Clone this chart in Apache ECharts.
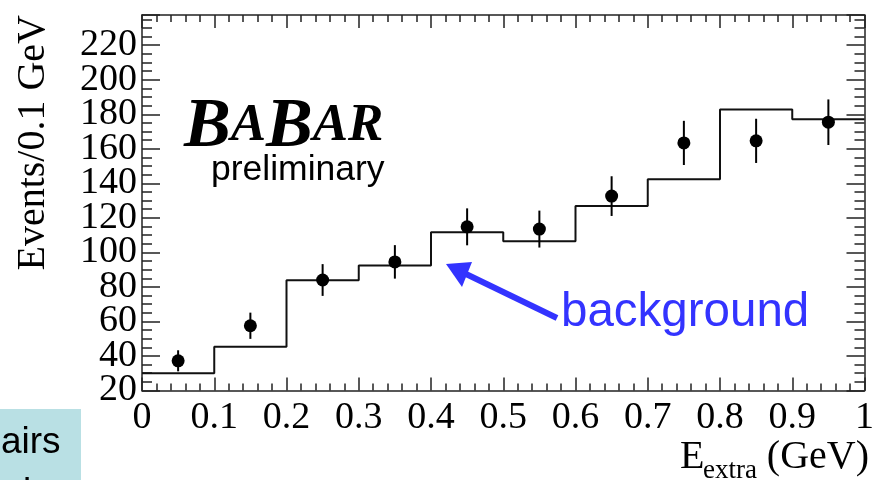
<!DOCTYPE html>
<html>
<head>
<meta charset="utf-8">
<script src="https://cdn.jsdelivr.net/npm/echarts@6/dist/echarts.min.js"></script>
<style>
  html, body { margin: 0; padding: 0; background: #fff; }
  #chart { width: 877px; height: 480px; }
</style>
</head>
<body>
<div id="chart"></div>
<script>
// Lower edges of the 0.1 GeV bins
const binEdges = [0.0, 0.1, 0.2, 0.3, 0.4, 0.5, 0.6, 0.7, 0.8, 0.9];
const binWidth = 0.1;
// Expected background per bin (histogram)
const background = [30, 45.3, 83.8, 92.4, 111.7, 106.5, 126.8, 142.4, 182.7, 177.1];
// Observed events per bin and their statistical uncertainties
const binCenters = [0.05, 0.15, 0.25, 0.35, 0.45, 0.55, 0.65, 0.75, 0.85, 0.95];
const observed = [37.2, 57.5, 84.0, 94.5, 114.8, 113.5, 132.6, 163.4, 164.6, 175.4];
const observedErr = [6.1, 7.6, 9.2, 9.7, 10.7, 10.7, 11.5, 12.8, 12.8, 13.2];
const xTicks = ['0', '0.1', '0.2', '0.3', '0.4', '0.5', '0.6', '0.7', '0.8', '0.9', '1'];
const yMin = 20, yMax = 237.5, yStep = 20;

const AXIS = '#222';
const SERIF = '"Liberation Serif", "DejaVu Serif", serif';
const SANS = '"Liberation Sans", Arial, sans-serif';

// Step outline: each bin edge carries that bin's value, closed at x = 1
const histData = binEdges.map((x, i) => [x, background[i]]);
histData.push([binEdges[binEdges.length - 1] + binWidth, background[background.length - 1]]);

const pointData = binCenters.map((x, i) => [x, observed[i]]);
const errData = binCenters.map((x, i) => [x, observed[i] - observedErr[i], observed[i] + observedErr[i]]);

const tickStyle = { color: AXIS, width: 1.5 };

function xAxisDef(pos, labels) {
  return {
    type: 'value', position: pos, min: 0, max: 1, interval: 0.1,
    axisLine: { show: true, onZero: false, lineStyle: tickStyle },
    axisTick: { show: true, inside: true, length: 13, lineStyle: tickStyle },
    minorTick: { show: true, splitNumber: 5, length: 7, lineStyle: tickStyle },
    splitLine: { show: false },
    axisLabel: {
      show: labels, margin: 9, color: '#000', fontFamily: SERIF, fontSize: 38,
      showMinLabel: true, showMaxLabel: true,
      formatter: v => xTicks[Math.round(v * 10)] || ''
    }
  };
}
// Framed y axis (line + ticks only)
function yFrameDef(pos) {
  return {
    type: 'value', position: pos, min: yMin, max: yMax, interval: yStep,
    axisLine: { show: true, onZero: false, lineStyle: tickStyle },
    axisTick: { show: true, inside: true, length: 18, lineStyle: tickStyle },
    minorTick: { show: true, splitNumber: 4, length: 10, lineStyle: tickStyle },
    splitLine: { show: false },
    axisLabel: { show: false }
  };
}
// Label-only y axes; the tick labels are split across two of them so that
// the tightly packed serif numbers are all kept
function yLabelDef(interval, showMin, keep) {
  return {
    type: 'value', position: 'left', min: yMin, max: yMax, interval: interval,
    axisLine: { show: false }, axisTick: { show: false }, splitLine: { show: false },
    axisLabel: {
      show: true, margin: 5, color: '#000', fontFamily: SERIF, fontSize: 38,
      padding: [6, 0, 0, 0], showMinLabel: showMin, showMaxLabel: false,
      formatter: v => (keep(v) ? String(Math.round(v)) : '')
    }
  };
}
const isMult = (v, m, off) => Math.abs(((v - off) % m + m) % m) < 1e-6;

const chart = echarts.init(document.getElementById('chart'), null, { renderer: 'canvas' });
chart.setOption({
  animation: false,
  backgroundColor: '#fff',
  grid: { left: 142, top: 15, width: 729, height: 375.5 },
  xAxis: [xAxisDef('bottom', true), xAxisDef('top', false)],
  yAxis: [
    yFrameDef('left'),
    yFrameDef('right'),
    yLabelDef(2 * yStep, true, v => isMult(v, 2 * yStep, yMin)),
    yLabelDef(yStep, false, v => isMult(v, 2 * yStep, yMin + yStep))
  ],
  series: [
    {
      type: 'line', step: 'end', data: histData, symbol: 'none',
      lineStyle: { color: '#111', width: 2 }, z: 3
    },
    {
      type: 'custom', data: errData, z: 4,
      renderItem: (params, api) => {
        const lo = api.coord([api.value(0), api.value(1)]);
        const hi = api.coord([api.value(0), api.value(2)]);
        return {
          type: 'line',
          shape: { x1: lo[0], y1: lo[1], x2: hi[0], y2: hi[1] },
          style: { stroke: '#000', lineWidth: 2 }
        };
      }
    },
    {
      type: 'scatter', data: pointData, symbol: 'circle', symbolSize: 13,
      itemStyle: { color: '#000', opacity: 1 }, z: 5
    }
  ],
  graphic: [
    // Experiment logo
    {
      type: 'text', left: 184, top: 93, z: 10,
      style: {
        text: '{b|B}{s|A}{b|B}{s|AR}',
        rich: {
          b: { fontFamily: SERIF, fontStyle: 'italic', fontWeight: 'bold', fontSize: 70, fill: '#000' },
          s: { fontFamily: SERIF, fontStyle: 'italic', fontWeight: 'bold', fontSize: 53, fill: '#000', padding: [0, 0, 4, 0] }
        }
      }
    },
    {
      type: 'text', left: 211, top: 152, z: 10,
      style: { text: 'preliminary', font: '35.5px ' + SANS, fill: '#000' }
    },
    // Axis titles
    {
      type: 'text', x: 33, y: 15, rotation: Math.PI / 2, z: 10,
      style: { text: 'Events/0.1 GeV', font: '40px ' + SERIF, fill: '#000', align: 'right', verticalAlign: 'middle' }
    },
    {
      type: 'text', x: 680, y: 477, z: 10,
      style: { text: 'E', font: '40px ' + SERIF, fill: '#000', align: 'left', verticalAlign: 'bottom' }
    },
    {
      type: 'text', x: 703, y: 484, z: 10,
      style: { text: 'extra', font: '27px ' + SERIF, fill: '#000', align: 'left', verticalAlign: 'bottom' }
    },
    {
      type: 'text', x: 869, y: 477, z: 10,
      style: { text: '(GeV)', font: '40px ' + SERIF, fill: '#000', align: 'right', verticalAlign: 'bottom' }
    },
    // Annotation pointing at the background histogram
    {
      type: 'line', z: 10,
      shape: { x1: 557, y1: 318, x2: 466, y2: 274 },
      style: { stroke: '#3333ff', lineWidth: 6 }
    },
    {
      type: 'polygon', z: 10,
      shape: { points: [[446, 264], [472, 262], [462, 287]] },
      style: { fill: '#3333ff' }
    },
    {
      type: 'text', left: 561, top: 289, z: 10,
      style: { text: 'background', font: '47.5px ' + SANS, fill: '#3333ff' }
    },
    // Partial side panel
    {
      type: 'rect', z: 9,
      shape: { x: 0, y: 409, width: 81, height: 71 },
      style: { fill: '#b9e0e4' }
    },
    {
      type: 'text', left: 1, top: 424, z: 10,
      style: { text: 'airs', font: '37px ' + SANS, fill: '#000' }
    },
    {
      type: 'text', left: 23, top: 475, z: 10,
      style: { text: 'i', font: '37px ' + SANS, fill: '#000' }
    }
  ]
});
</script>
</body>
</html>
